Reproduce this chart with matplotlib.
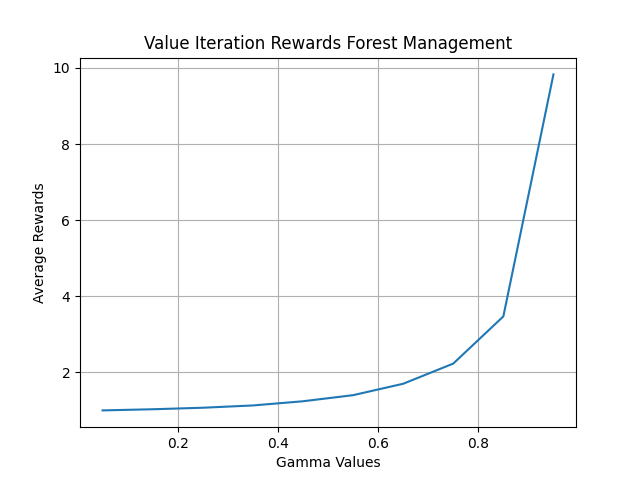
import matplotlib
matplotlib.use("Agg")
import matplotlib.pyplot as plt

gammas = [0.05, 0.15, 0.25, 0.35, 0.45, 0.55, 0.65, 0.75, 0.85, 0.95]
rewards = [1.00, 1.03, 1.07, 1.13, 1.24, 1.40, 1.70, 2.23, 3.47, 9.83]

fig, ax = plt.subplots(figsize=(6.4, 4.8), dpi=100)
ax.plot(gammas, rewards)
ax.set_title("Value Iteration Rewards Forest Management")
ax.set_xlabel("Gamma Values")
ax.set_ylabel("Average Rewards")
ax.grid(True)
fig.savefig("out.png")
